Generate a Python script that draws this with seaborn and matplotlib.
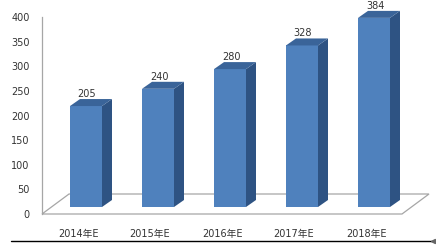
import matplotlib
matplotlib.use("Agg")
import matplotlib.pyplot as plt
from matplotlib.patches import Polygon
from matplotlib.lines import Line2D
import seaborn as sns
import pandas as pd

categories = ["2014年E", "2015年E", "2016年E", "2017年E", "2018年E"]
values = [205, 240, 280, 328, 384]
yticks = [0, 50, 100, 150, 200, 250, 300, 350, 400]

sns.set_theme(style="white")
plt.rcParams["font.family"] = ["DejaVu Sans", "Noto Sans CJK SC"]

W, H = 436, 249
fig = plt.figure(figsize=(W / 100, H / 100), dpi=100)
ax_l, ax_r, ax_t, ax_b = 42, 402, 17, 214
ax = fig.add_axes([ax_l / W, 1 - ax_b / H, (ax_r - ax_l) / W, (ax_b - ax_t) / H])

df = pd.DataFrame({"cat": categories, "val": values})
sns.barplot(data=df, x="cat", y="val", color="#4F81BD", saturation=1,
            width=32 / 72, ax=ax, zorder=3)

ax.set_xlim(-0.5, len(categories) - 0.5)
ax.set_ylim(0, 400)
ax.set_yticks(yticks)
ax.set_xlabel("")
ax.set_ylabel("")

pxx = (ax_r - ax_l) / len(categories)  # px per category unit
pxy = (ax_b - ax_t) / 400.0            # px per value unit

# floor
fdx, fdy = 27 / pxx, 20 / pxy
n = len(categories)
floor = Polygon([(-0.5, 0), (n - 0.5, 0), (n - 0.5 + fdx, fdy), (-0.5 + fdx, fdy)],
                closed=True, facecolor="white", edgecolor="#A6A6A6", lw=0.9,
                clip_on=False, zorder=1)
ax.add_patch(floor)

# bar 3D offsets
ox, oy = 8 / pxx, 7 / pxy
ddx, ddy = 10 / pxx, 7 / pxy
for p, v in zip(ax.patches[:n], values):
    p.set_x(p.get_x() + ox)
    p.set_y(oy)
    p.set_clip_on(False)
    p.set_edgecolor("none")
    x0 = p.get_x()
    x1 = x0 + p.get_width()
    yb, yt = oy, oy + v
    side = Polygon([(x1, yb), (x1 + ddx, yb + ddy), (x1 + ddx, yt + ddy), (x1, yt)],
                   closed=True, facecolor="#2E5383", edgecolor="none",
                   clip_on=False, zorder=3)
    top = Polygon([(x0, yt), (x1, yt), (x1 + ddx, yt + ddy), (x0 + ddx, yt + ddy)],
                  closed=True, facecolor="#3A6499", edgecolor="none",
                  clip_on=False, zorder=3)
    ax.add_patch(side)
    ax.add_patch(top)
    ax.text(x0 + p.get_width() / 2 + 1 / pxx, yt + ddy, str(v), ha="center",
            va="bottom", fontsize=7, color="#333333", clip_on=False, zorder=4)

for s in ["top", "right", "bottom"]:
    ax.spines[s].set_visible(False)
ax.spines["left"].set_color("#A6A6A6")
ax.spines["left"].set_linewidth(0.9)
ax.tick_params(axis="y", length=0, pad=9, labelsize=7, labelcolor="#333333")
ax.tick_params(axis="x", length=0, pad=11, labelsize=7, labelcolor="#333333")
ax.grid(False)

# page rule at bottom
fig.add_artist(Line2D([11 / W, 432 / W], [1 - 241 / H] * 2, color="black", lw=1))
fig.add_artist(Line2D([433 / W], [1 - 241 / H], marker="<", markersize=3,
                      color="#666666", lw=0))

fig.savefig("out.png", dpi=100, facecolor="white")
